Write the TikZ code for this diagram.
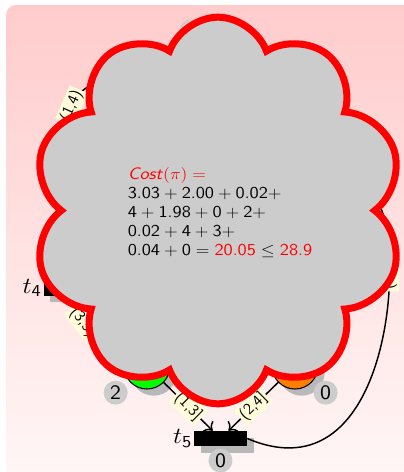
\documentclass[tikz,border=0pt]{standalone}
\usepackage{fontspec}
\usepackage{graphicx}
\usetikzlibrary{positioning,arrows.meta,shapes.symbols,shadows}

\newcommand{\wider}[1]{\scalebox{1.12}[1]{#1}}

\begin{document}
\begin{tikzpicture}[x=0.75pt,y=0.75pt,>={To[scale=1.3]},
  place/.style={circle,draw,line width=0.8pt,minimum size=34.5pt,inner sep=0pt,
    drop shadow={shadow xshift=5pt,shadow yshift=-5pt,fill=black!28,opacity=1}},
  transition/.style={rectangle,fill=black,minimum width=39.75pt,minimum height=11.25pt,inner sep=0pt,
    drop shadow={shadow xshift=5pt,shadow yshift=-5pt,fill=black!28,opacity=1}},
  tok/.style={circle,fill=gray!40,minimum size=18pt,inner sep=0pt,font=\fontsize{15.5}{15.5}\selectfont\sffamily},
  tname/.style={inner sep=1pt,font=\fontsize{18}{18}\selectfont},
  elab/.style={fill=yellow!15,sloped,inner sep=1.5pt,font=\fontsize{12}{12}\selectfont\sffamily},
  arc/.style={->,line width=1.1pt},
  thought/.style={cloud,cloud puffs=10,cloud puff arc=140,cloud ignores aspect,draw=red,fill=gray!40,
    line width=5.25pt,minimum width=278pt,minimum height=290pt},
  costtext/.style={align=left,font=\fontsize{12.5}{14.25}\selectfont\sffamily}]
\useasboundingbox (0,0) rectangle (404,-472);
\shade[top color=red!20,bottom color=red!3,rounded corners=7.5pt] (6,-5) rectangle (430,-490);

% the net
\node[place,fill=white] (top) at (225,-70) {};
\node[tok] (top n) [above left=9.9pt and 6.2pt of top] {\wider{0}};
\node[transition] (t4) at (70,-288) {};
\node[tname] (t4 n) [left=0pt of t4] {\wider{$t_{\mathsf{4}}$}};
\node[place,fill=green] (green) at (147,-366) {};
\node[tok] (green n) [below left=1pt and 4.5pt of green] {\wider{2}};
\node[place,fill=orange] (orange) at (295,-366) {};
\node[tok] (orange n) [below right=1pt and 4pt of orange] {\wider{0}};
\node[transition] (t5) at (220.5,-438.5) {};
\node[tname] (t5 n) [left=0pt of t5] {\wider{$t_{\mathsf{5}}$}};
\node[tok] (t5 c) [below=1.5pt of t5] {\wider{0}};
\node[place,fill=white] (right) at (362,-180) {};

\draw[arc] (top) to[out=180,in=90,looseness=1.8] node[elab,pos=0.48] {(1,4)} (t4);
\draw[arc] (t4) to[out=-80,in=150] node[elab,pos=0.35] {(3,5)} (green);
\draw[arc] (green) -- node[elab] {(1,3]} (t5);
\draw[arc] (orange) -- node[elab] {(2,4]} (t5);
\draw[arc] (t5.east) .. controls +(145,-61.5) and +(45,-62) .. node[elab,pos=0.72] {(0,2]} (right);

% the cost
\node[thought] (cloud) at (218,-210.5) {};
\node[costtext] (cost) at (220,-213) {%
  \wider{\color{red}\textit{Cost}$(\pi) =$}\\
  \wider{$\mathsf{3.03}+\mathsf{2.00}+\mathsf{0.02}+$}\\
  \wider{$\mathsf{4}+\mathsf{1.98}+\mathsf{0}+\mathsf{2}+$}\\
  \wider{$\mathsf{0.02}+\mathsf{4}+\mathsf{3}+$}\\
  \wider{$\mathsf{0.04}+\mathsf{0}=\textcolor{red}{\mathsf{20.05}}\leq\textcolor{red}{\mathsf{28.9}}$}};
\end{tikzpicture}
\end{document}
